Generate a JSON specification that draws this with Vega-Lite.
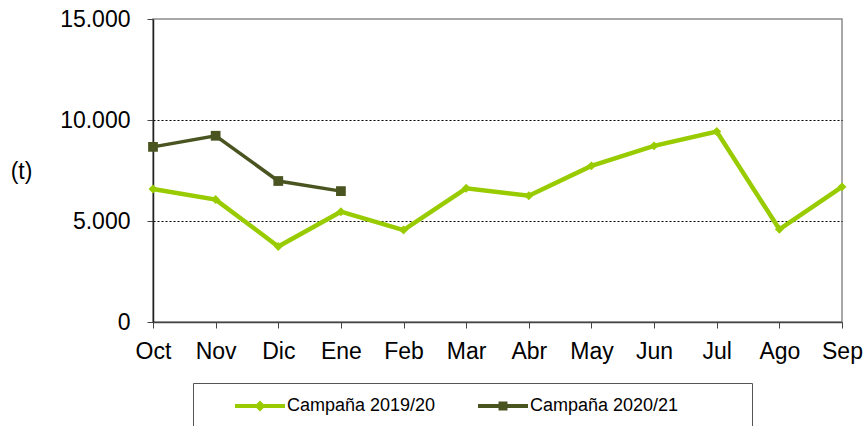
{
  "$schema": "https://vega.github.io/schema/vega-lite/v6.json",
  "width": 689,
  "height": 303,
  "autosize": {"type": "none"},
  "padding": {"left": 153, "top": 19, "right": 22, "bottom": 104},
  "background": "white",
  "config": {
    "view": {"stroke": "#8c8c8c", "strokeWidth": 1.5},
    "font": "Liberation Sans",
    "axis": {"labelFont": "Liberation Sans", "titleFont": "Liberation Sans"}
  },
  "data": {
    "values": [
      {"mes": "Oct", "campana": "Campaña 2019/20", "valor": 6580},
      {"mes": "Nov", "campana": "Campaña 2019/20", "valor": 6060},
      {"mes": "Dic", "campana": "Campaña 2019/20", "valor": 3740},
      {"mes": "Ene", "campana": "Campaña 2019/20", "valor": 5460},
      {"mes": "Feb", "campana": "Campaña 2019/20", "valor": 4550},
      {"mes": "Mar", "campana": "Campaña 2019/20", "valor": 6620},
      {"mes": "Abr", "campana": "Campaña 2019/20", "valor": 6250},
      {"mes": "May", "campana": "Campaña 2019/20", "valor": 7730},
      {"mes": "Jun", "campana": "Campaña 2019/20", "valor": 8720},
      {"mes": "Jul", "campana": "Campaña 2019/20", "valor": 9430},
      {"mes": "Ago", "campana": "Campaña 2019/20", "valor": 4590},
      {"mes": "Sep", "campana": "Campaña 2019/20", "valor": 6690},
      {"mes": "Oct", "campana": "Campaña 2020/21", "valor": 8670},
      {"mes": "Nov", "campana": "Campaña 2020/21", "valor": 9220},
      {"mes": "Dic", "campana": "Campaña 2020/21", "valor": 6980},
      {"mes": "Ene", "campana": "Campaña 2020/21", "valor": 6480}
    ]
  },
  "encoding": {
    "x": {
      "field": "mes",
      "type": "ordinal",
      "scale": {"type": "point", "padding": 0, "domain": ["Oct","Nov","Dic","Ene","Feb","Mar","Abr","May","Jun","Jul","Ago","Sep"]},
      "axis": {
        "title": null,
        "labelAngle": 0,
        "labelFontSize": 23,
        "labelColor": "#000",
        "labelPadding": 12,
        "tickSize": 6,
        "tickColor": "#444",
        "domainColor": "#444",
        "domainWidth": 1.5,
        "grid": false
      }
    },
    "y": {
      "field": "valor",
      "type": "quantitative",
      "scale": {"domain": [0, 15000], "nice": false},
      "axis": {
        "values": [0, 5000, 10000, 15000],
        "labelExpr": "replace(format(datum.value, ','), ',', '.')",
        "labelFontSize": 23,
        "labelColor": "#000",
        "labelPadding": 17,
        "tickSize": 6,
        "tickColor": "#444",
        "domainColor": "#222",
        "domainWidth": 1.5,
        "grid": true,
        "gridColor": "#000",
        "gridDash": [2, 2],
        "gridWidth": 1,
        "gridOpacity": {"condition": {"test": "datum.value > 0 && datum.value < 15000", "value": 1}, "value": 0},
        "title": "(t)",
        "titleAngle": 0,
        "titleFontSize": 23,
        "titleFontWeight": "normal",
        "titleColor": "#000",
        "titleAlign": "center",
        "titleBaseline": "middle",
        "titleX": -132,
        "titleY": 152
      }
    }
  },
  "layer": [
    {
      "transform": [{"filter": "datum.campana === 'Campaña 2019/20'"}],
      "mark": {"type": "line", "color": "#99CC00", "strokeWidth": 4.5},
      "encoding": {
        "color": {
          "field": "campana",
          "type": "nominal",
          "scale": {"domain": ["Campaña 2019/20", "Campaña 2020/21"], "range": ["#99CC00", "#4A5420"]},
          "legend": {
            "title": null,
            "orient": "none",
            "legendX": 40,
            "legendY": 364,
            "direction": "horizontal",
            "columns": 2,
            "padding": 14,
            "columnPadding": 14,
            "strokeColor": "#555",
            "fillColor": "white",
            "labelFontSize": 18,
            "labelColor": "#000",
            "labelFont": "Liberation Sans",
            "labelOffset": 62,
            "symbolSize": 100,
            "symbolStrokeWidth": 0,
            "encode": {
              "symbols": {
                "update": {
                  "shape": {"signal": "datum.value === 'Campaña 2019/20' ? 'M-1.8,0L-1.8,0M3.8,-0.4H13.8V0.4H3.8ZM8.8,-1.1L9.9,0L8.8,1.1L7.7,0Z' : 'M-1.8,0L-1.8,0M55.8,0L55.8,0M3.8,-0.4H13.8V0.4H3.8ZM7.9,-0.9H9.7V0.9H7.9Z'"},
                  "fill": {"signal": "datum.value === 'Campaña 2019/20' ? '#99CC00' : '#4A5420'"},
                  "fillOpacity": {"value": 1},
                  "opacity": {"value": 1},
                  "strokeWidth": {"value": 0}
                }
              }
            }
          }
        }
      }
    },
    {
      "transform": [{"filter": "datum.campana === 'Campaña 2019/20'"}],
      "mark": {"type": "point", "shape": "diamond", "filled": true, "size": 80, "color": "#99CC00", "opacity": 1}
    },
    {
      "transform": [{"filter": "datum.campana === 'Campaña 2020/21'"}],
      "mark": {"type": "line", "color": "#4A5420", "strokeWidth": 3.5}
    },
    {
      "transform": [{"filter": "datum.campana === 'Campaña 2020/21'"}],
      "mark": {"type": "square", "size": 95, "color": "#4A5420", "opacity": 1}
    }
  ]
}
